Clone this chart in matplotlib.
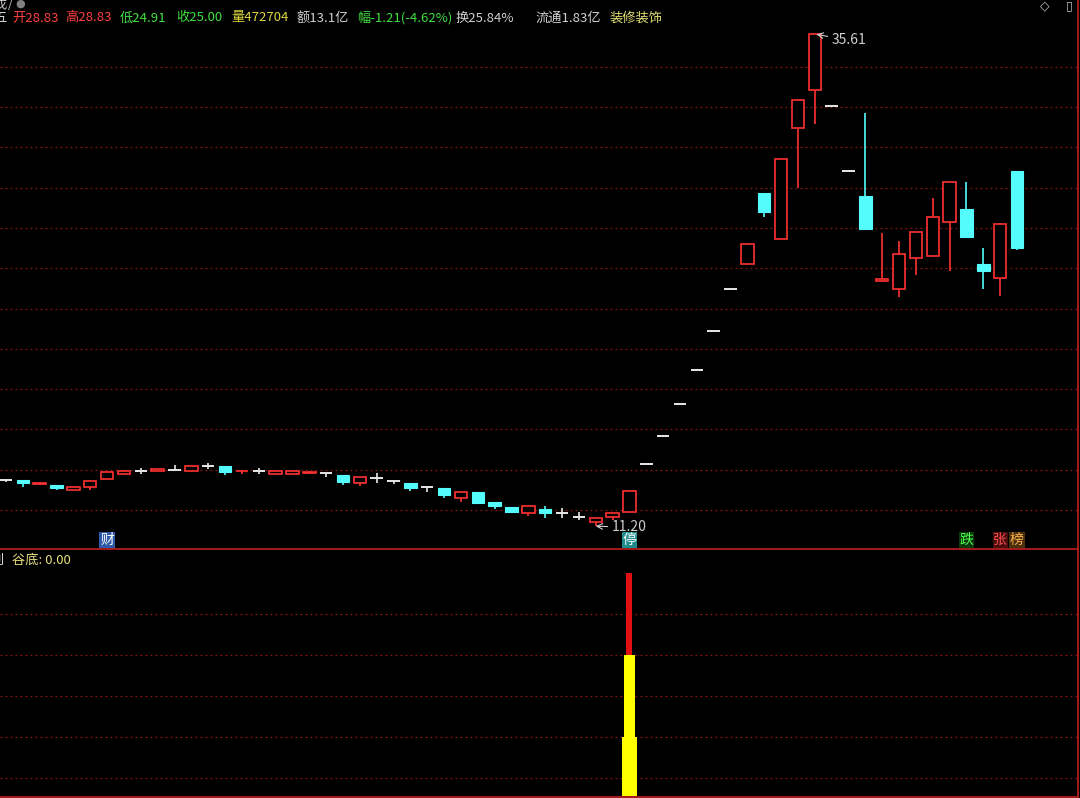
import matplotlib
matplotlib.use("Agg")
import matplotlib.pyplot as plt
from matplotlib.transforms import blended_transform_factory

plt.rcParams['font.family'] = ['Noto Sans CJK SC', 'DejaVu Sans']

# ---------------- data ----------------
opens = [13.49, 13.49, 13.28, 13.25, 13.00, 13.15, 13.54, 13.79, 13.94, 13.94,
         13.99, 13.94, 14.19, 14.19, 13.92, 13.94, 13.79, 13.79, 13.86, 13.84,
         13.74, 13.34, 13.59, 13.44, 13.34, 13.15, 13.10, 12.60, 12.90, 12.40,
         12.15, 11.86, 12.05, 11.86, 11.66, 11.41, 11.66, 11.91, 14.27, 15.68,
         17.25, 18.97, 20.88, 22.95, 24.21, 27.74, 25.45, 30.96, 32.85, 32.05,
         28.84, 27.59, 23.36, 22.97, 24.51, 24.61, 26.30, 26.94, 24.21, 23.52,
         28.83]
highs = [13.49, 13.49, 13.36, 13.27, 13.17, 13.46, 13.90, 13.96, 14.09, 14.06,
         14.24, 14.21, 14.34, 14.21, 14.00, 14.09, 13.96, 13.96, 13.96, 13.84,
         13.76, 13.66, 13.84, 13.44, 13.36, 13.15, 13.12, 12.92, 12.92, 12.42,
         12.17, 12.22, 12.20, 12.10, 11.91, 11.63, 11.88, 12.95, 14.27, 15.68,
         17.25, 18.97, 20.88, 22.95, 25.21, 27.74, 29.42, 32.35, 35.61, 32.05,
         28.84, 31.72, 25.77, 25.35, 25.82, 27.49, 28.30, 28.28, 25.01, 26.27,
         28.83]
lows = [13.40, 13.15, 13.25, 13.00, 12.98, 13.00, 13.52, 13.77, 13.79, 13.92,
        13.99, 13.92, 14.04, 13.74, 13.79, 13.79, 13.77, 13.77, 13.84, 13.64,
        13.25, 13.20, 13.34, 13.30, 12.95, 12.90, 12.60, 12.40, 12.33, 12.05,
        11.88, 11.71, 11.61, 11.61, 11.51, 11.20, 11.51, 11.91, 14.27, 15.68,
        17.25, 18.97, 20.88, 22.95, 24.21, 26.55, 25.45, 27.99, 31.16, 32.05,
        28.84, 25.96, 23.36, 22.58, 23.67, 24.60, 23.87, 25.55, 22.97, 22.63,
        24.91]
closes = [13.49, 13.34, 13.32, 13.10, 13.15, 13.44, 13.89, 13.94, 13.94, 14.04,
          13.99, 14.19, 14.19, 13.89, 13.96, 13.94, 13.94, 13.94, 13.91, 13.84,
          13.39, 13.64, 13.59, 13.44, 13.10, 13.15, 12.75, 12.90, 12.35, 12.20,
          11.91, 12.20, 11.86, 11.86, 11.66, 11.61, 11.86, 12.95, 14.27, 15.68,
          17.25, 18.97, 20.88, 22.95, 25.21, 26.79, 29.42, 32.35, 35.61, 32.05,
          28.84, 25.96, 23.45, 24.71, 25.80, 26.55, 28.28, 25.55, 23.87, 26.21,
          25.00]

high_label = "35.61"
low_label = "11.20"
high_idx = 48
low_idx = 35

# indicator (谷底) stacked segments at the signal bar
signal_idx = 37
seg_bottom = [0, 2, 4]
seg_top = [2, 4, 6]
seg_colors = ['#FFFF00', '#FFFF00', '#E01010']
seg_widths = [0.9, 0.66, 0.36]

marks = [(6, "财", '#FFFFFF', '#2C5AA8'),
         (37, "停", '#FFFFFF', '#1F8C8C'),
         (57, "跌", '#4CFF4C', '#0C3A0C'),
         (59, "张", '#FF4C4C', '#4A0E0E'),
         (60, "榜", '#FFB04C', '#4A300E')]

header = [("五", '#D8D8D8', -7),
          ("开28.83", '#FF4040', 12),
          ("高28.83", '#FF4040', 65),
          ("低24.91", '#40E040', 120),
          ("收25.00", '#40E040', 176),
          ("量472704", '#E0D840', 231),
          ("额13.1亿", '#D0D0D0', 297),
          ("幅-1.21(-4.62%)", '#40E040', 357),
          ("换25.84%", '#D0D0D0', 456),
          ("流通1.83亿", '#D0D0D0', 535),
          ("装修装饰", '#E0E070', 610)]

# ---------------- figure ----------------
W, H = 1080, 798
fig = plt.figure(figsize=(W / 100, H / 100), dpi=100, facecolor='black')

RED = '#FF3232'
CYAN = '#54FCFC'
GRID = '#8C1414'

# main price panel: pixel y 0..548, x 0..1077
ax = fig.add_axes([0, (H - 548) / H, 1077 / W, 548 / H])
ax.set_facecolor('black')
ax.set_xlim(-0.356, 63.56)
ax.set_ylim(10.119, 37.315)
for s in ax.spines.values():
    s.set_visible(False)
ax.set_xticks([])
ax.set_yticks([])

for g in range(12, 36, 2):
    ax.axhline(g, color=GRID, lw=0.9, ls=(0, (1.5, 2.5)), zorder=0)

bw = 0.74
for i, (o, h, l, c) in enumerate(zip(opens, highs, lows, closes)):
    top = max(o, c)
    bot = min(o, c)
    if c > o:
        col = RED
        ax.bar(i, top - bot, bottom=bot, width=bw, facecolor='black',
               edgecolor=col, linewidth=1.2, zorder=3)
    elif c < o:
        col = CYAN
        ax.bar(i, top - bot, bottom=bot, width=bw, facecolor=col,
               edgecolor=col, linewidth=0.8, zorder=3)
    else:
        col = '#E8E8E8'
        ax.hlines(o, i - bw / 2, i + bw / 2, color=col, lw=1.4, zorder=3)
    if h > top:
        ax.vlines(i, top, h, color=col, lw=1.2, zorder=2)
    if l < bot:
        ax.vlines(i, l, bot, color=col, lw=1.2, zorder=2)

ax.annotate(high_label, xy=(high_idx + 0.1, highs[high_idx]),
            xytext=(high_idx + 1.0, highs[high_idx] - 0.3),
            color='#D0D0D0', fontsize=10, ha='left', va='center',
            arrowprops=dict(arrowstyle='->', color='#D0D0D0', lw=0.8,
                            shrinkA=1, shrinkB=0))
ax.annotate(low_label, xy=(low_idx, lows[low_idx]),
            xytext=(low_idx + 0.95, lows[low_idx] - 0.05),
            color='#D0D0D0', fontsize=10, ha='left', va='center',
            arrowprops=dict(arrowstyle='->', color='#D0D0D0', lw=0.8,
                            shrinkA=1, shrinkB=0))

tr = blended_transform_factory(ax.transData, ax.transAxes)
for idx, ch, fc, bc in marks:
    ax.text(idx, 8 / 548, ch, transform=tr, ha='center', va='center',
            color=fc, fontsize=10,
            bbox=dict(boxstyle='square,pad=0.05', facecolor=bc, edgecolor='none'))

# ---------------- indicator panel ----------------
bx = fig.add_axes([0, 2 / H, 1077 / W, 247 / H])
bx.set_facecolor('black')
bx.set_xlim(-0.356, 63.56)
bx.set_ylim(0.561, 6.585)
for s in bx.spines.values():
    s.set_visible(False)
bx.set_xticks([])
bx.set_yticks([])
for g in range(1, 6):
    bx.axhline(g, color=GRID, lw=0.9, ls=(0, (1.5, 2.5)), zorder=0)
for b0, b1, col, w in zip(seg_bottom, seg_top, seg_colors, seg_widths):
    bx.bar(signal_idx, b1 - b0, bottom=b0, width=w, color=col,
           linewidth=0, zorder=3)

# ---------------- header / labels ----------------
for txt, col, x in header:
    fig.text(x / W, 1 - 18 / H, txt, color=col, fontsize=9.5,
             ha='left', va='center')
fig.text(-6 / W, 1 - 4 / H, "戊", color='#C8C8C8', fontsize=9.5,
         ha='left', va='center')
fig.text(8 / W, 1 - 4 / H, "/", color='#C8C8C8', fontsize=9,
         ha='left', va='center')
fig.text(15 / W, 1 - 4 / H, "●", color='#808080', fontsize=8,
         ha='left', va='center', family='DejaVu Sans')
fig.text(1040 / W, 1 - 6 / H, "◇", color='#C0C0C0', fontsize=9,
         ha='left', va='center', family='DejaVu Sans')
fig.text(1066 / W, 1 - 6 / H, "▯", color='#C0C0C0', fontsize=9,
         ha='left', va='center', family='DejaVu Sans')

fig.text(-9 / W, 1 - 560 / H, "别", color='#D8D8D8', fontsize=9.5,
         ha='left', va='center')
fig.text(12 / W, 1 - 560 / H, "谷底: 0.00", color='#E8E080', fontsize=9.5,
         ha='left', va='center')

# frame lines
fig.add_artist(plt.Line2D([0, 1077 / W], [1 - 548.5 / H] * 2, color='#B41E1E', lw=1.3))
fig.add_artist(plt.Line2D([0, 1077 / W], [1 - 796.5 / H] * 2, color='#B41E1E', lw=1.3))
fig.add_artist(plt.Line2D([1077.5 / W] * 2, [0, 1], color='#B41E1E', lw=1.3))

fig.savefig("out.png", dpi=100, facecolor='black')
